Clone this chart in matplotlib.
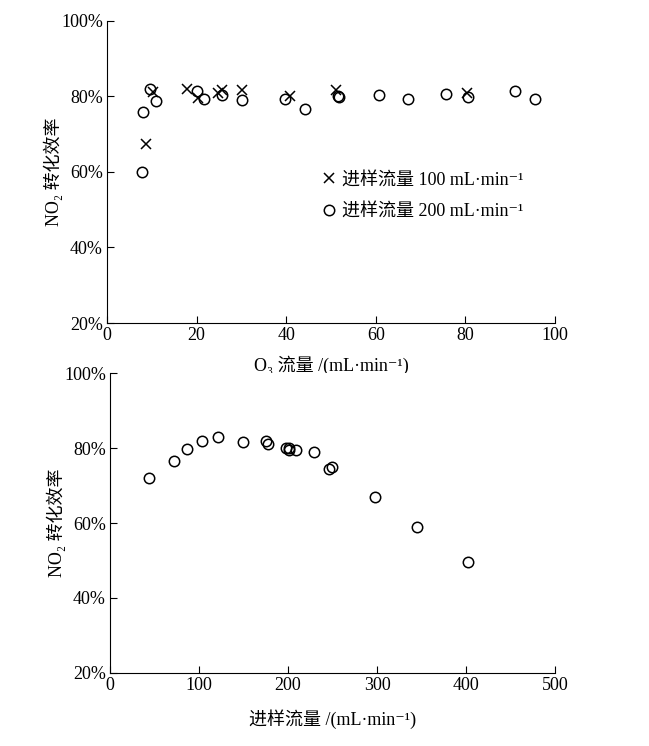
import matplotlib
matplotlib.use('Agg')
import matplotlib.pyplot as plt
from matplotlib.ticker import FuncFormatter

plt.rcParams['font.family'] = ['Liberation Serif', 'DejaVu Serif', 'Noto Sans CJK SC']
plt.rcParams['axes.unicode_minus'] = False

# top chart: O3 flow vs NO2 conversion
o3_100 = [8.6, 10.3, 17.9, 20.4, 24.8, 25.6, 30.1, 40.8, 51.1, 80.4]
eff_100 = [67.4, 81.3, 81.9, 79.5, 81.0, 81.7, 81.7, 80.0, 81.7, 81.0]

o3_200 = [7.7, 8.0, 9.6, 10.9, 20.0, 21.7, 25.6, 30.1, 39.8, 44.3, 51.5, 51.9,
          60.8, 67.3, 75.8, 80.7, 91.1, 95.5]
eff_200 = [60.1, 76.0, 81.9, 78.9, 81.5, 79.2, 80.4, 79.1, 79.3, 76.7, 80.1, 79.8,
           80.3, 79.2, 80.7, 79.8, 81.5, 79.4]

# bottom chart: sample flow vs NO2 conversion
flow = [44.2, 72.3, 86.9, 103.7, 121.0, 149.1, 175.3, 177.2, 197.8, 200.8, 201.5,
        209.3, 229.6, 246.4, 249.1, 297.4, 345.3, 401.9]
eff = [72.1, 76.6, 79.8, 81.8, 82.9, 81.7, 81.8, 81.0, 79.9, 80.1, 79.6,
       79.4, 79.0, 74.4, 74.9, 67.0, 59.0, 49.5]

fig = plt.figure(figsize=(6.49, 7.46), dpi=100)
ax1 = fig.add_axes([0.1649, 0.567, 0.690, 0.405])
ax2 = fig.add_axes([0.1695, 0.0979, 0.6857, 0.402])

pct = FuncFormatter(lambda v, p: '%d%%' % v)
fs = 13

for ax in (ax1, ax2):
    ax.spines['top'].set_visible(False)
    ax.spines['right'].set_visible(False)
    ax.set_ylim(20, 100)
    ax.set_yticks([20, 40, 60, 80, 100])
    ax.yaxis.set_major_formatter(pct)
    ax.tick_params(direction='in', length=5, labelsize=fs, colors='black', pad=3)
    ax.set_ylabel('NO₂ 转化效率', fontsize=fs, labelpad=-1.5)

ax1.plot(o3_100, eff_100, 'x', color='black', markersize=6.5, markeredgewidth=1.1,
         label='进样流量 100 mL·min⁻¹')
ax1.plot(o3_200, eff_200, 'o', color='black', markerfacecolor='none', markersize=7.5,
         markeredgewidth=1.1, label='进样流量 200 mL·min⁻¹')
ax1.set_xlim(0, 100)
ax1.set_xticks([0, 20, 40, 60, 80, 100])
ax1.set_xlabel('O₃ 流量 /(mL·min⁻¹)', fontsize=fs, labelpad=8)
ax1.legend(loc='upper left', bbox_to_anchor=(0.435, 0.555), frameon=False, fontsize=fs,
           handletextpad=0.15, handlelength=1.2, labelspacing=0.8)

ax2.plot(flow, eff, 'o', color='black', markerfacecolor='none', markersize=7.5,
         markeredgewidth=1.1)
ax2.set_xlim(0, 500)
ax2.set_xticks([0, 100, 200, 300, 400, 500])
ax2.set_xlabel('进样流量 /(mL·min⁻¹)', fontsize=fs, labelpad=11)

fig.savefig('out.png', dpi=100)
